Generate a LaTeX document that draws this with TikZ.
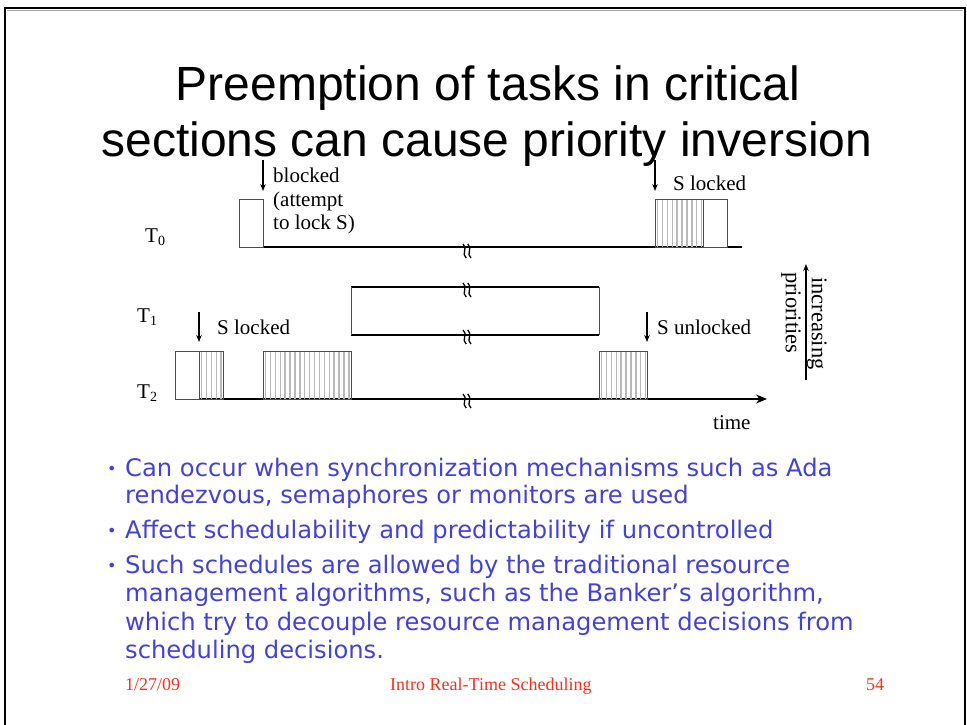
\documentclass[tikz,border=0pt]{standalone}
\usepackage{fontspec}
\setmainfont{Liberation Serif}
\newfontfamily\titlefont{Liberation Sans}
\newfontfamily\bulletfont{DejaVu Sans}
\usetikzlibrary{arrows.meta}
\definecolor{bulletblue}{RGB}{66,66,214}
\definecolor{footred}{RGB}{245,50,25}
\definecolor{hatchgray}{RGB}{185,185,185}
\newcommand\hatchrect[4]{%
  \begin{scope}
    \clip (#1,#2) rectangle (#3,#4);
    \foreach \k in {0,...,30} {
      \draw[hatchgray, line width=1.4] ({#1+2.5+4.9*\k},#2) -- ({#1+2.5+4.9*\k},#4);
    }
  \end{scope}
  \draw[boxedge] (#1,#2) rectangle (#3,#4);
}
\newcommand\breakmark[2]{%
  \foreach \dd in {-2.4,2.4} {
    \draw[line width=1.3] ({#1+\dd-1.6},{#2-7}) .. controls ({#1+\dd+3.8},{#2-3}) and ({#1+\dd-3.8},{#2+3}) .. ({#1+\dd+1.6},{#2+7});
  }
}
\newcommand\tlab[1]{T\raisebox{-0.35ex}{\fontsize{14}{14}\selectfont #1}}
\begin{document}
\begin{tikzpicture}[x=1pt,y=-1pt,
  boxedge/.style={draw=black!70, line width=0.9},
  axis/.style={draw=black, line width=1.1},
  marker/.style={-{Stealth[length=7pt,width=5.5pt]}, line width=1.1},
  lbl/.style={font=\fontsize{21}{23.5}\selectfont, anchor=base west, inner sep=0pt},
  bul/.style={font=\bulletfont\fontsize{24.2}{26}\selectfont, text=bulletblue, anchor=base west, inner sep=0pt},
  foot/.style={font=\fontsize{18}{20}\selectfont, text=footred, anchor=base west, inner sep=0pt},
  ttl/.style={font=\titlefont\fontsize{48}{55}\selectfont, anchor=base, inner sep=0pt}]
\useasboundingbox (0,0) rectangle (967,725);
\fill[white] (0,0) rectangle (967,725);
% slide border
\draw[black!35, line width=0.8] (7,10.5) -- (963,10.5);
\draw[line width=2] (5,726) -- (5,8) -- (965,8) -- (965,726);
% title
\node[ttl] (title1) at (488,100) {Preemption of tasks in critical};
\node[ttl] (title2) at (487,156) {sections can cause priority inversion};
% task labels
\node[lbl] (t0) at (145,242) {\tlab{0}};
\node[lbl] (t1) at (137,322) {\tlab{1}};
\node[lbl] (t2) at (137,398) {\tlab{2}};
% T0 timeline
\draw[axis] (239,247) -- (742,247);
\draw[boxedge, fill=white] (239,199) rectangle (263,247);
\hatchrect{655}{199}{703}{247}
\draw[boxedge, fill=white] (703,199) rectangle (727,247);
\breakmark{467}{251}
% T1
\draw[axis] (351,287) -- (599,287);
\draw[axis] (351,335) -- (599,335);
\draw[boxedge] (351,287) -- (351,335);
\draw[boxedge] (599,287) -- (599,335);
\breakmark{467}{290}
\breakmark{467}{337}
% T2 timeline
\draw[axis, -{Stealth[length=11pt,width=9pt]}] (175,399) -- (767,399);
\draw[boxedge, fill=white] (175,351) rectangle (199,399);
\hatchrect{199}{351}{223}{399}
\hatchrect{263}{351}{351}{399}
\hatchrect{599}{351}{647}{399}
\breakmark{467}{401}
% markers
\coordinate (blkA) at (263,160); \coordinate (blkB) at (263,191);
\draw[marker] (blkA) -- (blkB);
\node[lbl] (blk1) at (273,182) {blocked};
\node[lbl] (blk2) at (273,206) {(attempt};
\node[lbl] (blk3) at (273,229) {to lock S)};
\coordinate (slA) at (655,160); \coordinate (slB) at (655,191);
\draw[marker] (slA) -- (slB);
\node[lbl] (sl0) at (673,190) {S locked};
\coordinate (s2A) at (199,312); \coordinate (s2B) at (199,342);
\draw[marker] (s2A) -- (s2B);
\node[lbl] (sl2) at (217,334) {S locked};
\coordinate (suA) at (647,312); \coordinate (suB) at (647,342);
\draw[marker] (suA) -- (suB);
\node[lbl] (sul) at (657,334) {S unlocked};
\node[lbl] (time) at (713,429) {time};
% increasing priorities
\coordinate (prA) at (806,380); \coordinate (prB) at (806,264);
\draw[marker] (prA) -- (prB);
\node[font=\fontsize{22.5}{24}\selectfont, rotate=-90, anchor=north west, inner sep=0pt] (incr) at (827,277) {increasing};
\node[font=\fontsize{22.5}{24}\selectfont, rotate=-90, anchor=north west, inner sep=0pt] (prio) at (801,272) {priorities};
% bullets
\foreach \yy in {476,538,573} {
  \node[bul, font=\bulletfont\fontsize{16}{16}\selectfont] at (107,\yy-2) {\textbullet};
}
\node[bul] (b1a) at (125,476) {Can occur when synchronization mechanisms such as Ada};
\node[bul] (b1b) at (125,503) {rendezvous, semaphores or monitors are used};
\node[bul] (b2a) at (125,538) {Affect schedulability and predictability if uncontrolled};
\node[bul] (b3a) at (125,573) {Such schedules are allowed by the traditional resource};
\node[bul] (b3b) at (125,601) {management algorithms, such as the Banker’s algorithm,};
\node[bul] (b3c) at (125,630) {which try to decouple resource management decisions from};
\node[bul] (b3d) at (125,658) {scheduling decisions.};
% footer
\node[foot] (date) at (125,690) {1/27/09};
\node[foot] (ftitle) at (390,690) {Intro Real-Time Scheduling};
\node[foot] (page) at (866,690) {54};
\end{tikzpicture}
\end{document}
